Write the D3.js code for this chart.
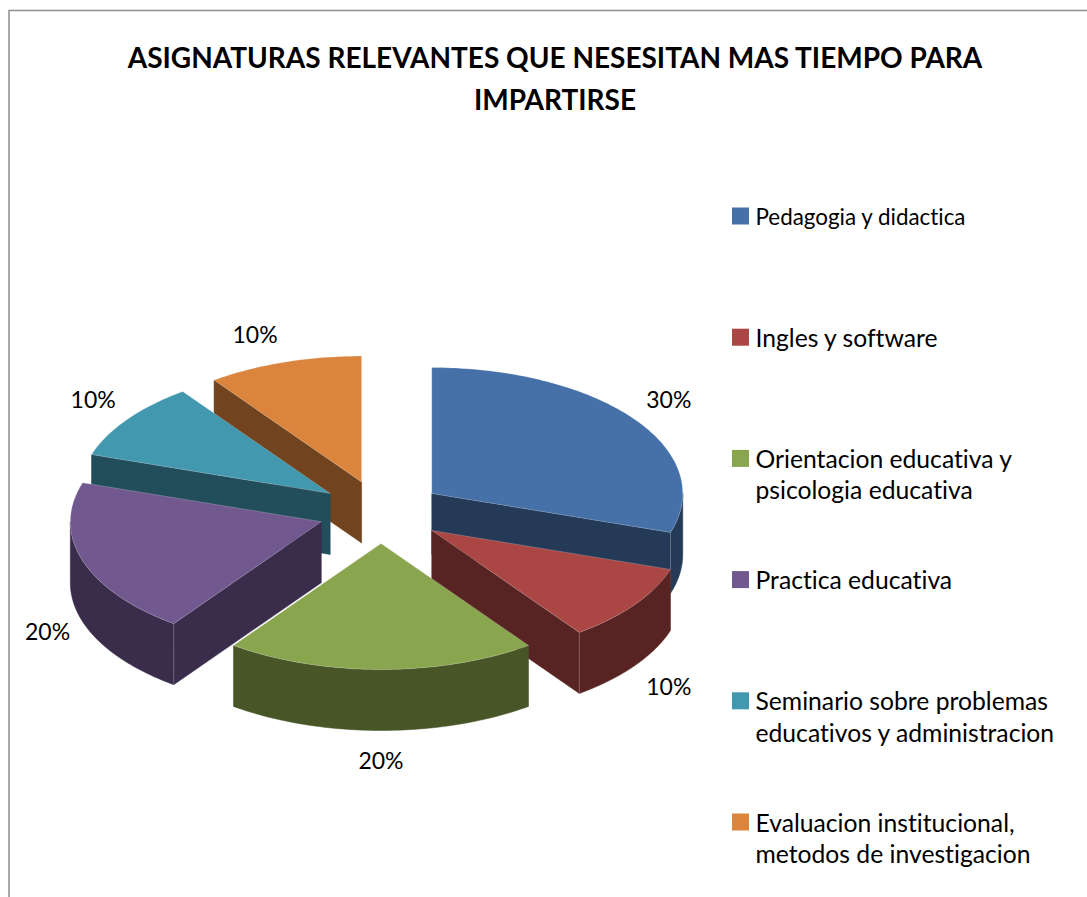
<!DOCTYPE html>
<html><head><meta charset="utf-8">
<script src="https://cdn.jsdelivr.net/npm/d3@7"></script>
<style>html,body{margin:0;padding:0;background:#fff}svg{display:block}text{font-family:Lato,"Open Sans",sans-serif;fill:#000;font-variant-ligatures:none}</style>
</head><body><svg id="c" width="1087" height="897"></svg>
<script>
const titleLines = ["ASIGNATURAS RELEVANTES QUE NESESITAN MAS TIEMPO PARA","IMPARTIRSE"];
const categories = [
  ["Pedagogia y didactica"],
  ["Ingles y software"],
  ["Orientacion educativa y","psicologia educativa"],
  ["Practica educativa"],
  ["Seminario sobre problemas","educativos y administracion"],
  ["Evaluacion institucional,","metodos de investigacion"]
];
const values = [30,10,20,20,10,10];
const topColors = ["#4571a8","#aa4644","#89a54e","#71588f","#4198af","#db843d"];
const wallColors = ["#243a57","#582323","#475527","#3a2c4b","#224e5b","#71441f"];
const drawOrder = [5,4,0,3,1,2];
const labelNudge = [[1,-3],[1,3],[0,-1],[-2,0],[-1,-3],[4,0]];
const legendFont = [22.4,24.7,24.7,24.7,24.7,24.7];

const W=1087,H=897,cx=381,cy=512,rx=251,ry=126,depth=61,explode=0.25;
const svg=d3.select("#c");
svg.append("path").attr("d",`M9 897V10.5H${W}`).attr("fill","none").attr("stroke","#8f8f8f").attr("stroke-width",1.5);

const sx=d3.scaleLinear().domain([-1,1]).range([cx-rx,cx+rx]);
const sy=d3.scaleLinear().domain([-1,1]).range([cy-ry,cy+ry]);
const arcs=d3.pie().sort(null)(values);
const line=d3.line();
function geom(a){
  const mid=(a.startAngle+a.endAngle)/2;
  const ox=explode*Math.sin(mid), oy=-explode*Math.cos(mid);
  const pt=(ang,r=1,dz=0)=>[sx(ox+r*Math.sin(ang)),sy(oy-r*Math.cos(ang))+dz];
  return {mid,pt};
}
function arcPts(pt,a0,a1,dz){
  const n=Math.max(2,Math.ceil((a1-a0)/0.02));
  return d3.range(n+1).map(i=>pt(a0+(a1-a0)*i/n,1,dz));
}
const PI=Math.PI;
drawOrder.forEach(i=>{
  const a=arcs[i],{pt}=geom(a),g=svg.append("g");
  const wall=p=>g.append("path").attr("d",line(p)+"Z").attr("fill",wallColors[i]).attr("stroke",wallColors[i]).attr("stroke-width",0.5);
  const radial=ang=>wall([pt(ang,0),pt(ang,1),pt(ang,1,depth),pt(ang,0,depth)]);
  if(a.startAngle>=PI) radial(a.startAngle);
  if(a.endAngle<=PI) radial(a.endAngle);
  const f0=Math.max(a.startAngle,PI/2),f1=Math.min(a.endAngle,3*PI/2);
  if(f1>f0) wall(arcPts(pt,f0,f1,0).concat(arcPts(pt,f0,f1,depth).reverse()));
  if(a.endAngle<=PI || (a.startAngle<PI*1.5 && a.startAngle>=PI)){
    const e=a.endAngle<=PI?a.endAngle:a.startAngle;
    g.append("path").attr("d",line([pt(e,1),pt(e,1,depth)])).attr("stroke","#fff").attr("stroke-opacity",.3).attr("stroke-width",.8);
  }
  g.append("path").attr("d",line([pt(a.startAngle,0),...arcPts(pt,a.startAngle,a.endAngle,0)])+"Z")
    .attr("fill",topColors[i]).attr("stroke","#fff").attr("stroke-opacity",.3).attr("stroke-width",.7);
});
// percentage labels
arcs.forEach((a,i)=>{
  const {mid,pt}=geom(a),s=Math.sin(mid),c=Math.cos(mid),p=pt(mid);
  const x=p[0]+33*Math.sign(Math.round(s*1000))+labelNudge[i][0], y=p[1]-30*c+(c<0?depth:0)+labelNudge[i][1];
  svg.append("text").attr("x",x).attr("y",y).attr("text-anchor","middle").attr("dominant-baseline","central")
    .attr("font-size",23).text(values[i]+"%");
});
// title
titleLines.forEach((t,i)=>svg.append("text").attr("x",555).attr("y",68+i*41.5).attr("text-anchor","middle")
  .attr("font-size",28).attr("font-weight",700).text(t));
// legend
const ly=d3.scaleLinear().domain([0,5]).range([216,822]);
categories.forEach((lines,i)=>{
  svg.append("rect").attr("x",732).attr("y",ly(i)-8.5).attr("width",17).attr("height",17).attr("fill",topColors[i]);
  lines.forEach((t,j)=>svg.append("text").attr("x",755.5).attr("y",ly(i)+j*31.5).attr("dominant-baseline","central")
    .attr("font-size",legendFont[i]).text(t));
});
</script></body></html>
